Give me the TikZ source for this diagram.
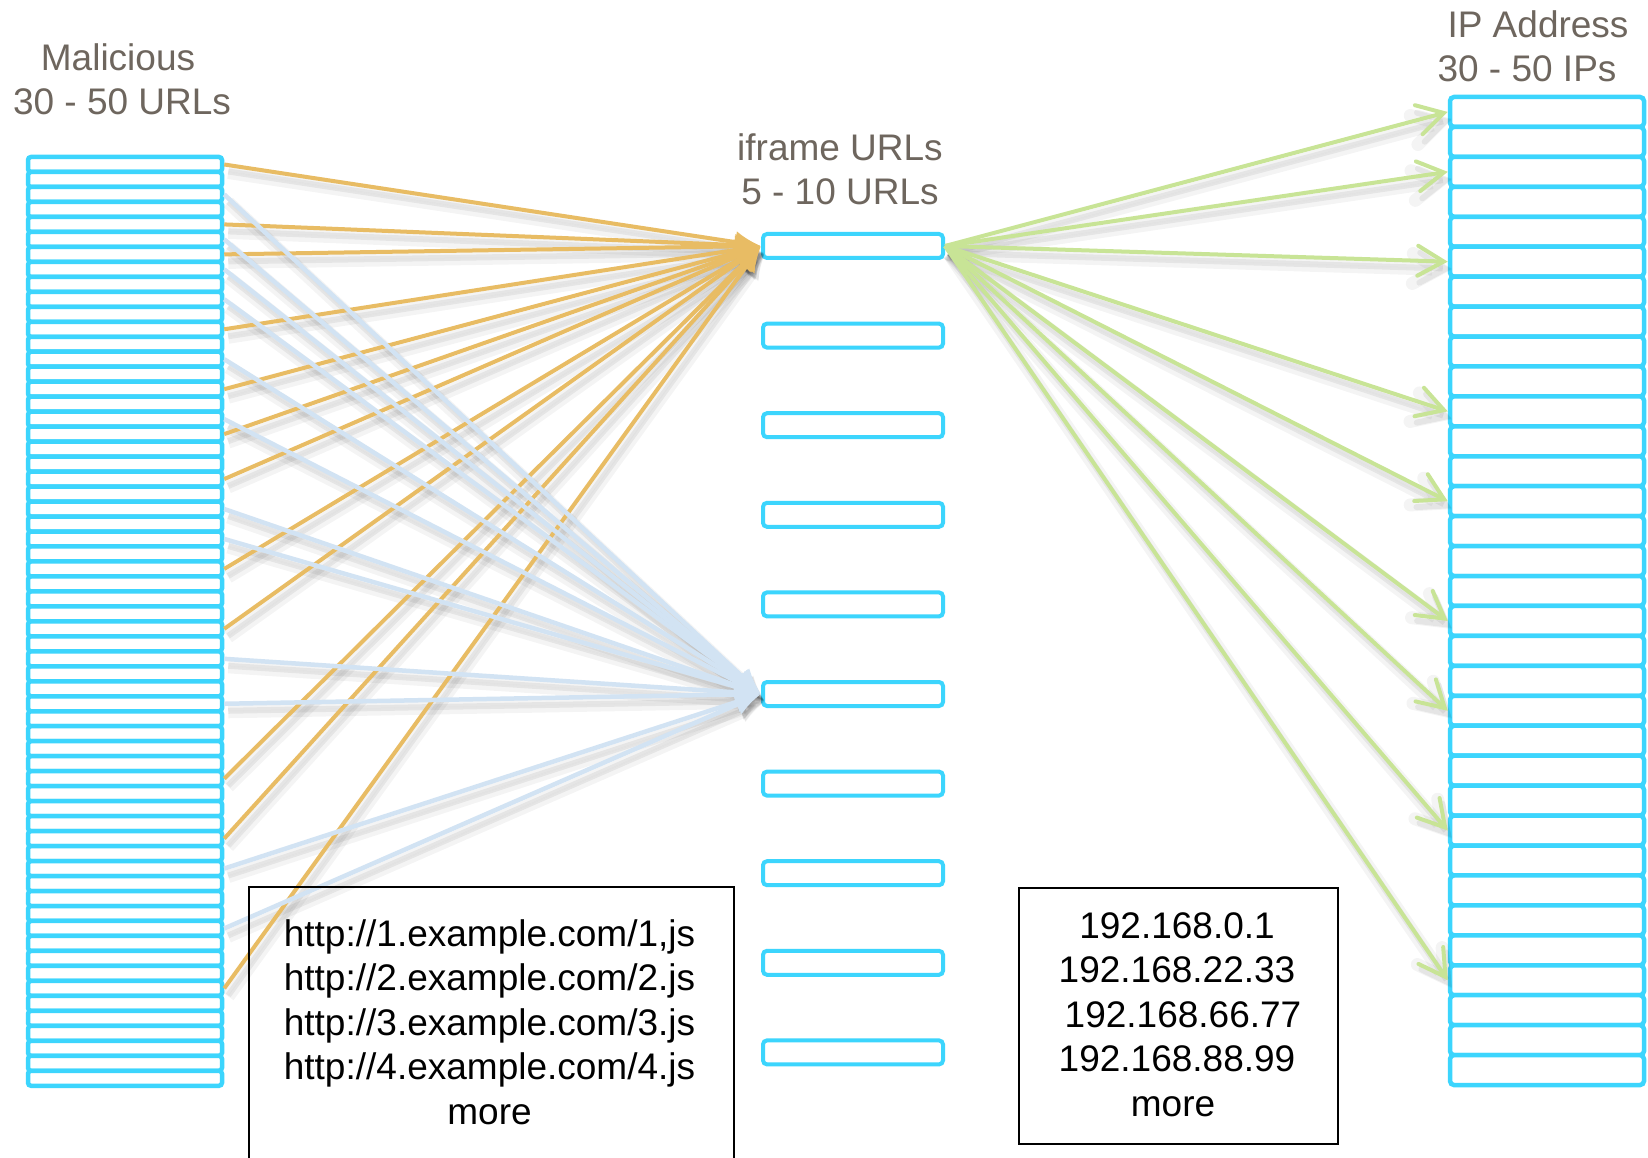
\documentclass[tikz,border=0pt]{standalone}
\usepackage{fontspec}
\setmainfont{Liberation Sans}
\usetikzlibrary{arrows.meta}
\definecolor{cyanc}{RGB}{60,213,253}
\definecolor{orangec}{RGB}{232,188,100}
\definecolor{bluec}{RGB}{210,227,243}
\definecolor{greenc}{RGB}{200,228,150}
\definecolor{headc}{RGB}{110,102,94}
\begin{document}
\begin{tikzpicture}[x=1pt,y=-1pt,
  lbox/.style={draw=cyanc, line width=4.5pt, rounded corners=3pt, fill=white, minimum width=194pt, minimum height=14.98pt, inner sep=0pt},
  rbox/.style={draw=cyanc, line width=4.5pt, rounded corners=4pt, fill=white, minimum width=194pt, minimum height=29.94pt, inner sep=0pt},
  mbox/.style={draw=cyanc, line width=4pt, rounded corners=4pt, fill=white, minimum width=180pt, minimum height=24pt, inner sep=0pt},
  head/.style={font=\fontsize{37}{44}\selectfont, text=headc, inner sep=0pt, anchor=base},
  urltxt/.style={font=\fontsize{37}{44}\selectfont, text=black, inner sep=0pt, anchor=base},
  iptxt/.style={font=\fontsize{37}{44}\selectfont, text=black, inner sep=0pt, anchor=base},
  frame/.style={draw=black, line width=1.5pt, inner sep=0pt, anchor=north west},
  shade1/.style={draw=black, draw opacity=0.045, fill opacity=0.045, fill=black, line width=13pt, transform canvas={xshift=4pt,yshift=-8pt}},
  shade2/.style={draw=black, draw opacity=0.06, fill opacity=0.06, fill=black, line width=6pt, transform canvas={xshift=4pt,yshift=-7pt}},
  otip/.style={-{Latex[length=26pt,width=22pt]}},
  gtip/.style={-{Straight Barb[length=26pt,width=30pt,line cap=round]}},
  oarrow/.style={draw=orangec, line width=4pt, otip},
  barrow/.style={draw=bluec, line width=4.5pt, otip},
  garrow/.style={draw=greenc, line width=4pt, gtip}
]
\useasboundingbox (0,0) rectangle (1648,1158);
\fill[white] (0,0) rectangle (1648,1158);

% columns of boxes
\foreach \i in {1,...,62} \node[lbox] (L\i) at (125,{157+(\i-0.5)*14.98}) {};
\foreach \j in {1,...,33} \node[rbox] (R\j) at (1547,{97+(\j-0.5)*29.94}) {};
\foreach \k in {1,...,10} \node[mbox] (M\k) at (853,{246+(\k-1)*89.6}) {};

% headings
\node[head] (mal1) at (118,71) {Malicious};
\node[head] (mal2) at (122,115) {30 - 50 URLs};
\node[head] (ifr1) at (840,160.5) {iframe URLs};
\node[head] (ifr2) at (840,204.5) {5 - 10 URLs};
\node[head] (ipa1) at (1538,37.5) {IP Address};
\node[head] (ipa2) at (1527,81.5) {30 - 50 IPs};

% shadows
\foreach \s in {1,5,7,12,16,19,22,28,32,42,46,56} {
  \draw[shade1, otip] (L\s.east) -- (M1.west);
  \draw[shade2, otip] (L\s.east) -- (M1.west);
}
\foreach \s in {3,6,8,10,14,18,24,26,34,37,48,52} {
  \draw[shade1, otip] (L\s.east) -- (M6.west);
  \draw[shade2, otip] (L\s.east) -- (M6.west);
}
\foreach \t in {1,3,6,11,14,18,21,25,30} {
  \draw[shade1, gtip] (M1.east) -- (R\t.west);
  \draw[shade2, gtip] (M1.east) -- (R\t.west);
}

% connectors
\foreach \s in {1,5,7,12,16,19,22,28,32,42,46,56}
  \draw[oarrow] (L\s.east) -- (M1.west);
\foreach \s in {3,6,8,10,14,18,24,26,34,37,48,52}
  \draw[barrow] (L\s.east) -- (M6.west);
\foreach \t in {1,3,6,11,14,18,21,25,30}
  \draw[garrow] (M1.east) -- (R\t.west);

% text boxes
\node[frame, minimum width=485pt, minimum height=276pt] (urlbox) at (248,886) {};
\node[urltxt] (u1) at (489.5,946) {http://1.example.com/1,js};
\node[urltxt] (u2) at (489.5,990.5) {http://2.example.com/2.js};
\node[urltxt] (u3) at (489.5,1035) {http://3.example.com/3.js};
\node[urltxt] (u4) at (489.5,1079.5) {http://4.example.com/4.js};
\node[urltxt] (u5) at (489.5,1124) {more};

\node[frame, minimum width=319pt, minimum height=256pt] (ipbox) at (1018,887) {};
\node[iptxt] (i1) at (1177,938) {192.168.0.1};
\node[iptxt] (i2) at (1177,982.5) {192.168.22.33};
\node[iptxt] (i3) at (1183,1027) {192.168.66.77};
\node[iptxt] (i4) at (1177,1071.5) {192.168.88.99};
\node[iptxt] (i5) at (1173,1116) {more};
\end{tikzpicture}
\end{document}
